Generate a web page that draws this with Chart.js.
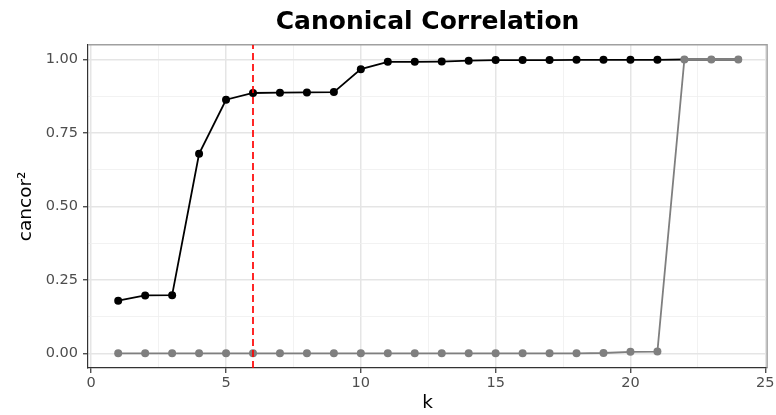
<!DOCTYPE html>
<html><head><meta charset="utf-8">
<script src="https://cdn.jsdelivr.net/npm/chart.js@4/dist/chart.umd.min.js"></script>
<style>html,body{margin:0;padding:0;background:#fff}</style>
</head><body>
<canvas id="c" width="776" height="415"></canvas>
<script>
const kValues = [1,2,3,4,5,6,7,8,9,10,11,12,13,14,15,16,17,18,19,20,21,22,23,24];
const cancorFirst = [0.179,0.197,0.198,0.679,0.863,0.886,0.887,0.888,0.889,0.967,0.992,0.992,0.993,0.996,0.998,0.998,0.998,0.999,0.999,0.999,0.999,1.0,1.0,1.0];
const cancorSecond = [0,0,0,0,0,0,0,0,0,0,0,0,0,0,0,0,0,0,0.001,0.005,0.006,1.0,1.0,1.0];
const selectedK = 6;
const xMajorTicks = [0,5,10,15,20,25];
const xMinorTicks = [2.5,7.5,12.5,17.5,22.5];
const yMajorTicks = [0,0.25,0.5,0.75,1];
const yMinorTicks = [0.125,0.375,0.625,0.875];
const xRange = [-0.12, 25.07];
const yRange = [-0.05, 1.05];

const FONT = "'DejaVu Sans', sans-serif";
const isMajor = (list, v) => list.some(t => Math.abs(t - v) < 1e-9);

const panelBorder = {
  id: 'panelBorder',
  beforeDatasetsDraw(chart) {
    const {ctx, chartArea: a} = chart;
    ctx.save();
    ctx.strokeStyle = '#a0a0a0';
    ctx.lineWidth = 1.4;
    ctx.beginPath();
    ctx.moveTo(a.left, a.top);
    ctx.lineTo(a.right, a.top);
    ctx.lineTo(a.right, a.bottom);
    ctx.stroke();
    ctx.restore();
  }
};

const gridColor = (list) => (c) => isMajor(list, c.tick.value) ? '#e5e5e5' : '#efefef';
const gridWidth = (list) => (c) => isMajor(list, c.tick.value) ? 1.5 : 0.8;
const tickCol = (list) => (c) => isMajor(list, c.tick.value) ? '#333333' : 'rgba(0,0,0,0)';

new Chart(document.getElementById('c'), {
  type: 'line',
  data: {
    datasets: [
      {
        data: [{x: selectedK, y: yRange[0]}, {x: selectedK, y: yRange[1]}],
        borderColor: '#ff0000', borderWidth: 1.7, borderDash: [7, 4],
        pointRadius: 0, fill: false
      },
      {
        data: kValues.map((k, i) => ({x: k, y: cancorSecond[i]})),
        borderColor: '#7f7f7f', backgroundColor: '#7f7f7f', borderWidth: 1.8,
        pointRadius: 4, pointBorderWidth: 0, pointBackgroundColor: '#7f7f7f', fill: false, tension: 0
      },
      {
        data: kValues.map((k, i) => ({x: k, y: cancorFirst[i]})),
        borderColor: '#000000', backgroundColor: '#000000', borderWidth: 1.8,
        pointRadius: (c) => cancorSecond[c.dataIndex] >= cancorFirst[c.dataIndex] ? 3.4 : 4,
        pointBorderWidth: 0, pointBackgroundColor: '#000000', fill: false, tension: 0
      }
    ]
  },
  options: {
    responsive: false,
    animation: false,
    events: [],
    layout: {padding: {left: 0, right: 8, top: 0, bottom: 0}},
    plugins: {
      legend: {display: false},
      tooltip: {enabled: false},
      title: {
        display: true, text: 'Canonical Correlation', fullSize: false,
        color: '#000000', font: {family: FONT, size: 25, weight: 'bold'},
        padding: {top: 7.8, bottom: 7}
      }
    },
    scales: {
      x: {
        type: 'linear', min: xRange[0], max: xRange[1],
        afterBuildTicks: (s) => { s.ticks = xMajorTicks.concat(xMinorTicks).sort((a,b)=>a-b).map(v => ({value: v})); },
        afterFit: (s) => { s.height = 47; },
        ticks: {
          autoSkip: false, maxRotation: 0, padding: 1.5, color: '#4d4d4d',
          font: {family: FONT, size: 14.5},
          callback: (v) => isMajor(xMajorTicks, v) ? String(v) : ''
        },
        grid: {color: gridColor(xMajorTicks), lineWidth: gridWidth(xMajorTicks), tickLength: 5, tickColor: tickCol(xMajorTicks), tickWidth: 1.2},
        border: {display: true, color: '#333333', width: 1.2},
        title: {display: true, text: 'k', color: '#000000', font: {family: FONT, size: 18.5}, padding: {top: 0, bottom: 0.5}}
      },
      y: {
        type: 'linear', min: yRange[0], max: yRange[1],
        afterBuildTicks: (s) => { s.ticks = yMajorTicks.concat(yMinorTicks).sort((a,b)=>a-b).map(v => ({value: v})); },
        afterFit: (s) => { s.width = 88; },
        ticks: {
          autoSkip: false, padding: 5, color: '#4d4d4d',
          font: {family: FONT, size: 14.5},
          callback: (v) => isMajor(yMajorTicks, v) ? v.toFixed(2) : ''
        },
        grid: {color: gridColor(yMajorTicks), lineWidth: gridWidth(yMajorTicks), tickLength: 5, tickColor: tickCol(yMajorTicks), tickWidth: 1.2},
        border: {display: true, color: '#333333', width: 1.2},
        title: {display: true, text: 'cancor²', color: '#000000', font: {family: FONT, size: 18.5}, padding: {top: 15, bottom: 0}}
      }
    }
  },
  plugins: [panelBorder]
});
</script>
</body></html>
